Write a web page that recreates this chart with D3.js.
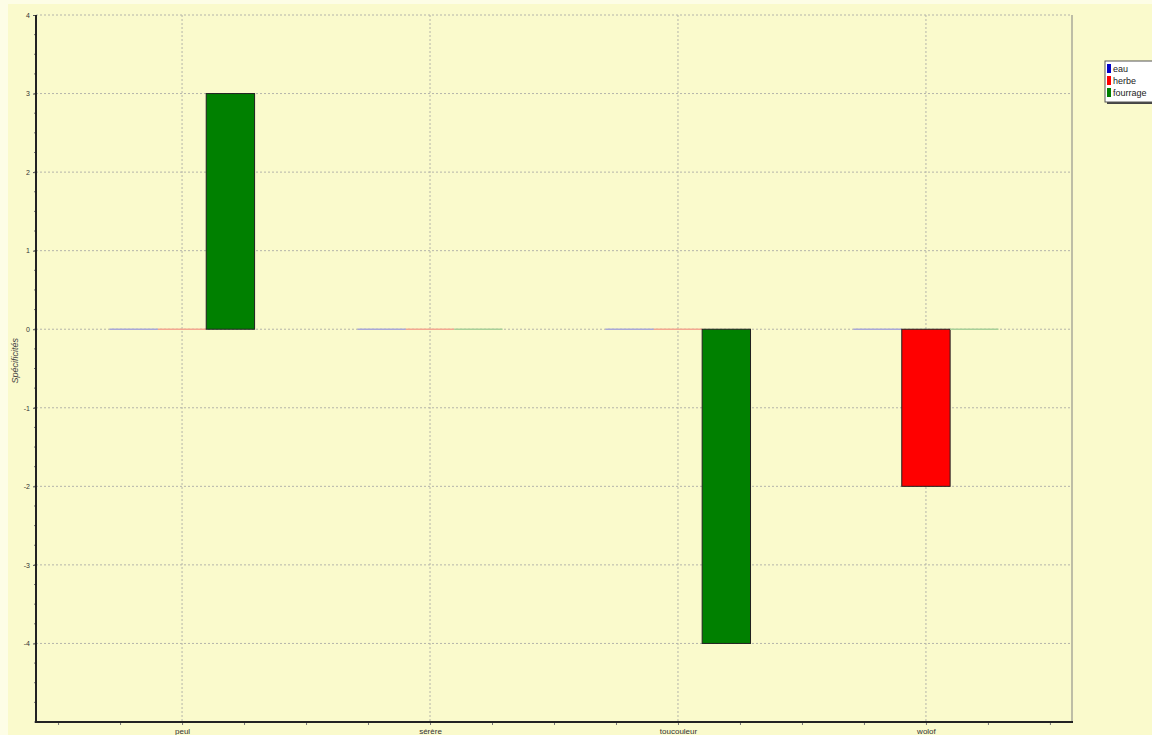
<!DOCTYPE html>
<html>
<head>
<meta charset="utf-8">
<script src="https://cdn.jsdelivr.net/npm/d3@7"></script>
<style>
  body { margin: 0; background: #fdfde6; }
  text { font-family: "Liberation Sans", Arial, sans-serif; }
</style>
</head>
<body>
<script>
// data
var categories = ["peul", "sérère", "toucouleur", "wolof"];
var seriesNames = ["eau", "herbe", "fourrage"];
var eau = [0, 0, 0, 0];
var herbe = [0, 0, 0, -2];
var fourrage = [3, 0, -4, 0];
var yTicks = [4, 3, 2, 1, 0, -1, -2, -3, -4];

var colors = ["#0000c8", "#ff0000", "#008000"];
var faint = ["#a8a8d8", "#f4a890", "#a8d098"];

//Width and height
var w = 1152;
var h = 735;
var plotL = 36, plotR = 1072, plotT = 15, plotB = 722;

var svg = d3.select("body")
            .append("svg")
            .attr("width", w)
            .attr("height", h);

// yellow panel
svg.append("rect")
   .attr("x", 8).attr("y", 4)
   .attr("width", w - 8).attr("height", h - 4)
   .attr("fill", "#fafacc");

//Create scaled x (category index)
var xScale = d3.scaleLinear()
               .domain([-0.589, 3.589])
               .range([plotL, plotR]);

//Create scaled y
var yScale = d3.scaleLinear()
               .domain([-5, 4])
               .range([plotB, plotT]);

var step = xScale(1) - xScale(0);
var barW = step * 0.585 / 3;

// horizontal grid
svg.selectAll(".hgrid")
   .data(yTicks)
   .enter()
   .append("line")
   .attr("x1", plotL).attr("x2", plotR)
   .attr("y1", function(d) { return yScale(d); })
   .attr("y2", function(d) { return yScale(d); })
   .attr("stroke", "#b4b4aa")
   .attr("stroke-dasharray", "2,2");

// vertical grid
svg.selectAll(".vgrid")
   .data(categories)
   .enter()
   .append("line")
   .attr("x1", function(d, i) { return xScale(i); })
   .attr("x2", function(d, i) { return xScale(i); })
   .attr("y1", plotT).attr("y2", plotB)
   .attr("stroke", "#b4b4aa")
   .attr("stroke-dasharray", "2,2");

// right border
svg.append("line")
   .attr("x1", plotR).attr("x2", plotR)
   .attr("y1", plotT).attr("y2", plotB)
   .attr("stroke", "#808080");

// bars
var values = [eau, herbe, fourrage];
values.forEach(function(vals, s) {
    var rows = vals.map(function(v, i) { return {i: i, v: v}; });
    svg.selectAll(".bar" + s)
       .data(rows.filter(function(d) { return d.v !== 0; }))
       .enter()
       .append("rect")
       .attr("x", function(d) { return xScale(d.i) - 1.5 * barW + s * barW; })
       .attr("y", function(d) { return yScale(Math.max(0, d.v)); })
       .attr("width", barW)
       .attr("height", function(d) { return Math.abs(yScale(d.v) - yScale(0)); })
       .attr("fill", colors[s])
       .attr("stroke", "#202020")
       .attr("stroke-width", 1);
    // zero values drawn as a faint line
    svg.selectAll(".zero" + s)
       .data(rows.filter(function(d) { return d.v === 0; }))
       .enter()
       .append("line")
       .attr("x1", function(d) { return xScale(d.i) - 1.5 * barW + s * barW; })
       .attr("x2", function(d) { return xScale(d.i) - 0.5 * barW + s * barW; })
       .attr("y1", yScale(0)).attr("y2", yScale(0))
       .attr("stroke", faint[s])
       .attr("stroke-width", 1.5);
});

//Define Y axis
var yAxis = d3.axisLeft(yScale)
              .tickValues(yTicks)
              .tickSize(3)
              .tickFormat(function(d) { return String(d); });

var gy = svg.append("g")
   .attr("transform", "translate(" + plotL + ",0)")
   .call(yAxis);
gy.select(".domain").remove();
gy.selectAll("text").attr("font-size", 7).attr("fill", "#333").attr("x", -6);
gy.selectAll("line").attr("stroke", "#555");

// minor y ticks
svg.selectAll(".ymin")
   .data(d3.range(-20, 16).map(function(d) { return d / 4; }))
   .enter()
   .append("line")
   .attr("x1", plotL - 2).attr("x2", plotL)
   .attr("y1", function(d) { return yScale(d); })
   .attr("y2", function(d) { return yScale(d); })
   .attr("stroke", "#777");

//Define X axis
var xAxis = d3.axisBottom(xScale)
              .tickValues(d3.range(-2, 15).map(function(d) { return d / 4; }))
              .tickSize(3)
              .tickFormat(function(d) { return Number.isInteger(d) ? categories[d] : ""; });

var gx = svg.append("g")
   .attr("transform", "translate(0," + plotB + ")")
   .call(xAxis);
gx.select(".domain").remove();
gx.selectAll("text").attr("font-size", 8).attr("fill", "#333").attr("y", 6);
gx.selectAll("line").attr("stroke", "#777");

// axis lines
svg.append("line")
   .attr("x1", plotL).attr("x2", plotL)
   .attr("y1", plotT).attr("y2", plotB + 1)
   .attr("stroke", "#222").attr("stroke-width", 2);
svg.append("line")
   .attr("x1", plotL - 1).attr("x2", plotR + 1)
   .attr("y1", plotB).attr("y2", plotB)
   .attr("stroke", "#222").attr("stroke-width", 2);

// y label
svg.append("text")
   .attr("transform", "translate(18," + yScale(-0.4) + ") rotate(-90)")
   .attr("text-anchor", "middle")
   .attr("font-size", 9)
   .attr("font-style", "italic")
   .attr("fill", "#444")
   .text("Spécificités");

// legend
var lg = svg.append("g").attr("transform", "translate(1105,61)");
lg.append("rect")
  .attr("x", 2).attr("y", 2)
  .attr("width", 60).attr("height", 41)
  .attr("fill", "#444");
lg.append("rect")
  .attr("width", 60).attr("height", 41)
  .attr("fill", "#ffffff")
  .attr("stroke", "#555");
seriesNames.forEach(function(name, i) {
    lg.append("rect")
      .attr("x", 2).attr("y", 3 + i * 12)
      .attr("width", 4).attr("height", 9)
      .attr("fill", colors[i]);
    lg.append("text")
      .attr("x", 8).attr("y", 11 + i * 12)
      .attr("font-size", 9)
      .attr("fill", "#222")
      .text(name);
});
</script>
</body>
</html>
